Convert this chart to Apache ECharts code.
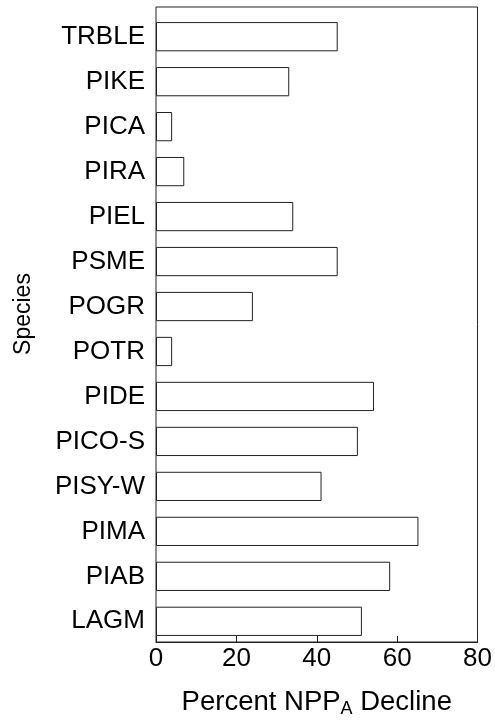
<!DOCTYPE html>
<html>
<head>
<meta charset="utf-8">
<script src="https://cdn.jsdelivr.net/npm/echarts@6/dist/echarts.min.js"></script>
<style>
  html, body { margin: 0; padding: 0; background: #fff; }
  #chart { width: 495px; height: 723px; }
</style>
</head>
<body>
<div id="chart"></div>
<script>
const species = ['TRBLE', 'PIKE', 'PICA', 'PIRA', 'PIEL', 'PSME', 'POGR', 'POTR',
                 'PIDE', 'PICO-S', 'PISY-W', 'PIMA', 'PIAB', 'LAGM'];
const nppDecline = [45, 33, 4, 7, 34, 45, 24, 4, 54, 50, 41, 65, 58, 51];
const xTicks = [0, 20, 40, 60, 80];

const FONT = '"Liberation Sans", Arial, Helvetica, sans-serif';
const INK = '#000';

const chart = echarts.init(document.getElementById('chart'), null, { renderer: 'canvas' });

chart.setOption({
  backgroundColor: '#fff',
  animation: false,
  grid: [
    { left: 156, right: 16, top: 7, bottom: 72, show: true, borderColor: '#222', borderWidth: 1, backgroundColor: 'transparent' },
    { left: 156, right: 16, top: 14.2, bottom: 79.2 }
  ],
  xAxis: [
    {
      gridIndex: 0, type: 'value',
      min: xTicks[0], max: xTicks[xTicks.length - 1], interval: 20,
      axisLine: { show: true, lineStyle: { color: '#222', width: 1 } },
      axisTick: { show: true, inside: true, length: 6, lineStyle: { color: '#222' } },
      splitLine: { show: false },
      axisLabel: { fontFamily: FONT, fontSize: 26, color: INK, margin: 4 },
      name: '{a|Percent NPP}{s|A}{a| Decline}',
      nameLocation: 'middle',
      nameGap: 46,
      nameTextStyle: {
        rich: {
          a: { fontFamily: FONT, fontSize: 27.5, color: INK, lineHeight: 30, verticalAlign: 'top' },
          s: { fontFamily: FONT, fontSize: 18, color: INK, lineHeight: 14, verticalAlign: 'bottom' }
        }
      }
    },
    {
      gridIndex: 1, type: 'value', min: 0, max: 80, show: false
    }
  ],
  yAxis: [
    {
      gridIndex: 0, type: 'value', min: 0, max: 1,
      axisLine: { show: false }, axisTick: { show: false },
      axisLabel: { show: false }, splitLine: { show: false }
    },
    {
      gridIndex: 1, type: 'category', data: species, inverse: true,
      axisLine: { show: false }, axisTick: { show: false }, splitLine: { show: false },
      axisLabel: { fontFamily: FONT, fontSize: 26, color: INK, margin: 11 },
      name: 'Species',
      nameLocation: 'middle',
      nameGap: 121,
      nameTextStyle: { fontFamily: FONT, fontSize: 23, color: INK, padding: [0, 0, 0, 30] }
    }
  ],
  series: [
    {
      type: 'bar',
      xAxisIndex: 1, yAxisIndex: 1,
      data: nppDecline,
      barCategoryGap: '35%',
      itemStyle: { color: '#fff', borderColor: '#222', borderWidth: 1 },
      emphasis: { disabled: true }
    }
  ]
});
</script>
</body>
</html>
